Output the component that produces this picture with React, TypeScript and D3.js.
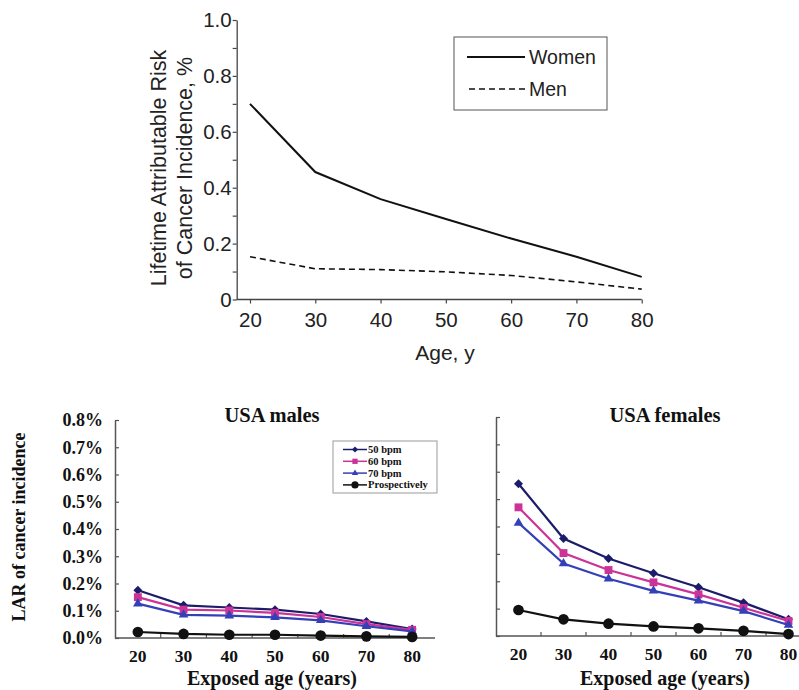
import { useEffect, useRef } from 'react';
import * as d3 from 'd3';

// top chart: LAR by age, women vs men
const ages = [20, 30, 40, 50, 60, 70, 80];
const topYTicks = [0, 0.1, 0.2, 0.3, 0.4, 0.5, 0.6, 0.7, 0.8, 0.9, 1.0];
const womenLar = [0.70, 0.456, 0.359, 0.288, 0.218, 0.153, 0.081];
const menLar = [0.153, 0.110, 0.107, 0.099, 0.086, 0.063, 0.037];

// bottom charts: LAR (%) by exposed age and heart rate
const bottomYTicks = [0, 0.1, 0.2, 0.3, 0.4, 0.5, 0.6, 0.7, 0.8];
const seriesNames = ['50 bpm', '60 bpm', '70 bpm', 'Prospectively'];
const males50 = [0.175, 0.120, 0.112, 0.104, 0.088, 0.061, 0.033];
const males60 = [0.150, 0.104, 0.101, 0.092, 0.077, 0.051, 0.030];
const males70 = [0.126, 0.085, 0.082, 0.076, 0.065, 0.043, 0.024];
const malesPro = [0.022, 0.015, 0.012, 0.012, 0.009, 0.006, 0.004];
const females50 = [0.556, 0.356, 0.283, 0.229, 0.178, 0.122, 0.061];
const females60 = [0.470, 0.303, 0.241, 0.196, 0.152, 0.103, 0.055];
const females70 = [0.413, 0.265, 0.209, 0.165, 0.129, 0.091, 0.040];
const femalesPro = [0.095, 0.061, 0.045, 0.035, 0.028, 0.019, 0.007];

const seriesColors = ['#1c1c6b', '#cc3399', '#3340b8', '#111111'];
const seriesShapes = ['diamond', 'square', 'triangle', 'circle'];

const sans = '"Liberation Sans", Arial, sans-serif';
const serif = '"Liberation Serif", "Times New Roman", serif';

function marker(g: any, shape: string, cx: number, cy: number, scale: number, color: string) {
  let sym;
  let rot = 0;
  if (shape === 'diamond') { sym = d3.symbol(d3.symbolSquare, 40 * scale); rot = 45; }
  else if (shape === 'square') sym = d3.symbol(d3.symbolSquare, 62 * scale);
  else if (shape === 'triangle') sym = d3.symbol(d3.symbolTriangle, 40 * scale);
  else sym = d3.symbol(d3.symbolCircle, 90 * scale);
  g.append('path')
    .attr('d', sym())
    .attr('transform', `translate(${cx},${cy}) rotate(${rot})`)
    .attr('fill', color);
}

function App() {
  const svgRef = useRef<SVGSVGElement>(null);

  useEffect(() => {
    if (!svgRef.current) return;
    const svg = d3.select(svgRef.current);
    svg.selectAll('*').remove();

    // ---------- top chart ----------
    const axisX0 = 236.7;
    const x = d3.scaleLinear().domain([20, 80]).range([250, 641.7]);
    const y = d3.scaleLinear().domain([0, 1]).range([299.5, 20]);
    const top = svg.append('g');

    const yAx = top.append('g')
      .attr('transform', `translate(${axisX0},0)`)
      .call(d3.axisLeft(y).tickValues(topYTicks).tickSize(4).tickSizeOuter(0).tickPadding(1)
        .tickFormat((d: any) => {
          const k = Math.round(d * 10);
          if (k % 2 !== 0) return '';
          return k === 0 ? '0' : d3.format('.1f')(d);
        }));
    const xAx = top.append('g')
      .attr('transform', `translate(0,${y(0)})`)
      .call(d3.axisBottom(x).tickValues(ages).tickSize(4).tickSizeOuter(0).tickPadding(9)
        .tickFormat(d3.format('d')));
    xAx.select('.domain').remove();
    top.append('line')
      .attr('x1', axisX0).attr('x2', x(80))
      .attr('y1', y(0)).attr('y2', y(0))
      .attr('stroke', '#444').attr('stroke-width', 1.3);
    [yAx, xAx].forEach(a => {
      a.selectAll('line').attr('stroke', '#444').attr('stroke-width', 1.2);
      a.select('.domain').attr('stroke', '#444').attr('stroke-width', 1.3);
      a.selectAll('text').attr('font-family', sans).attr('font-size', 20.5).attr('fill', '#222');
    });

    const topLine = d3.line<number>().x((_, i) => x(ages[i])).y(d => y(d));
    top.append('path').attr('d', topLine(womenLar))
      .attr('fill', 'none').attr('stroke', '#111').attr('stroke-width', 2);
    top.append('path').attr('d', topLine(menLar))
      .attr('fill', 'none').attr('stroke', '#111').attr('stroke-width', 1.6)
      .attr('stroke-dasharray', '6,4');

    // y title, two lines
    const yTitle = top.append('text')
      .attr('transform', 'translate(0,168) rotate(-90)')
      .attr('text-anchor', 'middle')
      .attr('font-family', sans).attr('font-size', 21.5).attr('fill', '#222');
    yTitle.append('tspan').attr('x', 0).attr('y', 166).text('Lifetime Attributable Risk');
    yTitle.append('tspan').attr('x', 0).attr('y', 192).text('of Cancer Incidence, %');

    top.append('text')
      .attr('x', 445).attr('y', 360)
      .attr('text-anchor', 'middle')
      .attr('font-family', sans).attr('font-size', 21).attr('fill', '#222')
      .text('Age, y');

    // legend
    const lg = top.append('g');
    lg.append('rect').attr('x', 454).attr('y', 37).attr('width', 153).attr('height', 73)
      .attr('fill', 'white').attr('stroke', '#555').attr('stroke-width', 1);
    lg.append('line').attr('x1', 467).attr('x2', 525).attr('y1', 57).attr('y2', 57)
      .attr('stroke', '#111').attr('stroke-width', 2);
    lg.append('line').attr('x1', 469).attr('x2', 525).attr('y1', 89).attr('y2', 89)
      .attr('stroke', '#111').attr('stroke-width', 1.6).attr('stroke-dasharray', '6,4');
    lg.append('text').attr('x', 529).attr('y', 64).text('Women');
    lg.append('text').attr('x', 529).attr('y', 96).text('Men');
    lg.selectAll('text').attr('font-family', sans).attr('font-size', 19.5).attr('fill', '#222');

    // ---------- bottom charts ----------
    const panels = [
      { title: 'USA males', left: 115, right: 435, y0: 638, y1: 420, labels: true,
        series: [males50, males60, males70, malesPro], cx: 272 },
      { title: 'USA females', left: 496, right: 811, y0: 636, y1: 417, labels: false,
        series: [females50, females60, females70, femalesPro], cx: 665 },
    ];

    panels.forEach(p => {
      const g = svg.append('g');
      const bx = d3.scaleBand<number>().domain(ages).range([p.left, p.right]).padding(0);
      const by = d3.scaleLinear().domain([0, 0.8]).range([p.y0, p.y1]);
      const cxOf = (a: number) => (bx(a) as number) + bx.bandwidth() / 2;

      const ya = g.append('g')
        .attr('transform', `translate(${p.left},0)`)
        .call(d3.axisLeft(by).tickValues(bottomYTicks).tickSize(-4).tickSizeOuter(0).tickPadding(12)
          .tickFormat((d: any) => (p.labels ? d3.format('.1f')(d) + '%' : '')));
      ya.selectAll('line').attr('stroke', '#555').attr('stroke-width', 1.2);
      ya.select('.domain').attr('stroke', '#555').attr('stroke-width', 1.5);
      ya.selectAll('text').attr('font-family', serif).attr('font-weight', 'bold')
        .attr('font-size', 18).attr('fill', '#111');

      const xa = g.append('g')
        .attr('transform', `translate(0,${p.y0})`)
        .call(d3.axisBottom(bx).tickSize(0).tickPadding(12).tickFormat(d3.format('d')));
      xa.select('.domain').remove();
      xa.selectAll('text').attr('font-family', serif).attr('font-weight', 'bold')
        .attr('font-size', 17.5).attr('fill', '#111');
      g.append('line').attr('x1', p.left).attr('x2', p.right).attr('y1', p.y0).attr('y2', p.y0)
        .attr('stroke', '#555').attr('stroke-width', 1.5);
      // category boundary ticks
      ages.slice(1).forEach(a => {
        g.append('line')
          .attr('x1', bx(a) as number).attr('x2', bx(a) as number)
          .attr('y1', p.y0).attr('y2', p.y0 - 4)
          .attr('stroke', '#555').attr('stroke-width', 1.2);
      });

      const line = d3.line<number>().x((_, i) => cxOf(ages[i])).y(d => by(d));
      p.series.forEach((s, si) => {
        g.append('path').attr('d', line(s))
          .attr('fill', 'none').attr('stroke', seriesColors[si]).attr('stroke-width', 2.2);
        s.forEach((v, i) => marker(g, seriesShapes[si], cxOf(ages[i]), by(v), 1, seriesColors[si]));
      });

      g.append('text').attr('x', p.cx).attr('y', 422)
        .attr('text-anchor', 'middle').attr('font-family', serif).attr('font-weight', 'bold')
        .attr('font-size', 20.5).attr('fill', '#111').text(p.title);
      g.append('text').attr('x', p.cx).attr('y', 685)
        .attr('text-anchor', 'middle').attr('font-family', serif).attr('font-weight', 'bold')
        .attr('font-size', 20).attr('fill', '#111').text('Exposed age (years)');
    });

    svg.append('text')
      .attr('transform', 'translate(25,527) rotate(-90)')
      .attr('text-anchor', 'middle').attr('font-family', serif).attr('font-weight', 'bold')
      .attr('font-size', 18).attr('fill', '#111').text('LAR of cancer incidence');

    // bottom legend
    const bl = svg.append('g');
    bl.append('rect').attr('x', 333).attr('y', 441).attr('width', 104).attr('height', 52)
      .attr('fill', 'white').attr('stroke', '#999').attr('stroke-width', 1);
    seriesNames.forEach((name, i) => {
      const ry = 449.5 + i * 11.8;
      bl.append('line').attr('x1', 343).attr('x2', 367).attr('y1', ry).attr('y2', ry)
        .attr('stroke', seriesColors[i]).attr('stroke-width', 1.5);
      marker(bl, seriesShapes[i], 355, ry, 0.45, seriesColors[i]);
      bl.append('text').attr('x', 368).attr('y', ry + 3.5)
        .attr('font-family', serif).attr('font-weight', 'bold').attr('font-size', 10.5)
        .attr('fill', '#111').text(name);
    });
  }, []);

  return (
    <svg
      ref={svgRef}
      width={799}
      height={690}
      style={{ position: 'absolute', left: 0, top: 0, background: 'white' }}
    ></svg>
  );
}

export default App;
